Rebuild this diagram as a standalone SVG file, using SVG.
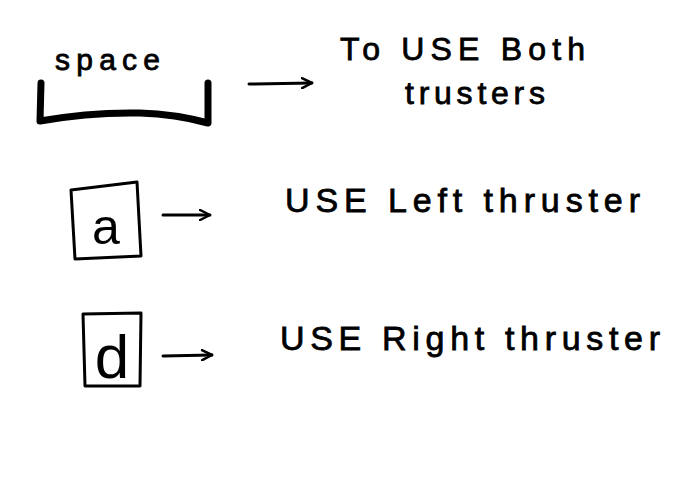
<svg xmlns="http://www.w3.org/2000/svg" width="700" height="500" viewBox="0 0 700 500">
<style>
.t{font-family:"Liberation Sans","DejaVu Sans",sans-serif;fill:#000;stroke:#000;stroke-width:0.8}
.k{font-family:"Liberation Sans","DejaVu Sans",sans-serif;fill:#000}
.ln{fill:none;stroke:#000;stroke-linecap:round;stroke-linejoin:round}
</style>
<defs>
<marker id="ah" viewBox="0 0 12 12" refX="11" refY="6" markerWidth="12" markerHeight="12" markerUnits="userSpaceOnUse" orient="auto">
<path d="M1,1 L11,6 L1,11" fill="none" stroke="#000" stroke-width="2.5" stroke-linecap="round" stroke-linejoin="round"/>
</marker>
</defs>
<rect width="700" height="500" fill="#fff"/>
<g id="space">
<text class="t" x="55" y="70" font-size="30" textLength="105" lengthAdjust="spacing">space</text>
<path class="ln" stroke-width="7" d="M41,83 L40,121 Q90,112 140,113 Q175,114 208,123 L208,83"/>
</g>
<g id="both">
<text class="t" x="340" y="60" font-size="32" textLength="245" lengthAdjust="spacing">To USE Both</text>
<text class="t" x="405" y="104" font-size="32" textLength="140" lengthAdjust="spacing">trusters</text>
</g>
<g id="key-a">
<path class="ln" stroke-width="3" d="M71,190 L137,182 L141,256 L75,259 Z"/>
<text class="k" x="106" y="244" font-size="50" text-anchor="middle">a</text>
</g>
<g id="left">
<text class="t" x="285" y="212" font-size="34" textLength="355" lengthAdjust="spacing">USE Left thruster</text>
</g>
<g id="key-d">
<path class="ln" stroke-width="3" d="M83,314 L141,313 L140,386 L85,386 Z"/>
<text class="k" x="112" y="378" font-size="62" text-anchor="middle">d</text>
</g>
<g id="right">
<text class="t" x="280" y="350" font-size="34" textLength="380" lengthAdjust="spacing">USE Right thruster</text>
</g>
<g id="connectors">
<path class="ln" stroke-width="3" marker-end="url(#ah)" d="M249,84 L312,83"/>
<path class="ln" stroke-width="3" marker-end="url(#ah)" d="M163,215 L210,215"/>
<path class="ln" stroke-width="3" marker-end="url(#ah)" d="M163,356 L212,355"/>
</g>
</svg>
